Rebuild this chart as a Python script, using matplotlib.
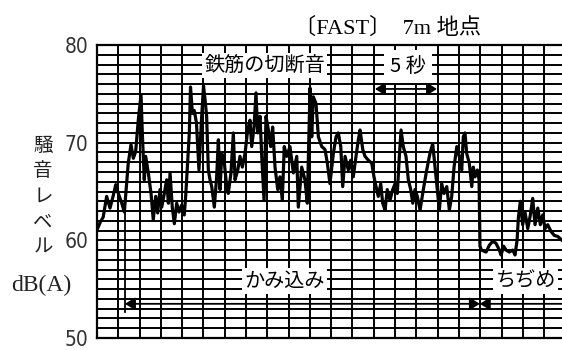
import numpy as np
import matplotlib.pyplot as plt

plt.rcParams['font.family'] = ['Noto Sans CJK JP', 'DejaVu Sans']

# 記録波形（時間 [s], 騒音レベル [dB(A)]）
t = [0.04, 0.23, 0.48, 0.74, 1.00, 1.25, 1.44, 1.64, 1.90, 2.10,
     2.40, 2.61, 2.79, 2.97, 3.17, 3.38, 3.48, 3.63, 3.74, 3.94,
     4.15, 4.32, 4.51, 4.66, 4.84, 4.97, 5.17, 5.35, 5.48, 5.61,
     5.78, 5.94, 6.12, 6.30, 6.50, 6.70, 6.81, 6.97, 7.09, 7.18,
     7.33, 7.47, 7.64, 7.83, 8.03, 8.18, 8.29, 8.42, 8.55, 8.68,
     8.81, 9.01, 9.19, 9.32, 9.45, 9.58, 9.78, 9.96, 10.08, 10.29,
     10.47, 10.60, 10.81, 10.98, 11.16, 11.37, 11.57, 11.75, 11.88, 12.06,
     12.21, 12.34, 12.52, 12.65, 12.83, 12.98, 13.16, 13.34, 13.49, 13.67,
     13.88, 14.05, 14.23, 14.38, 14.57, 14.82, 15.08, 15.34, 15.46, 15.72,
     15.97, 16.15, 16.36, 16.49, 16.61, 16.82, 17.00, 17.26, 17.51, 17.69,
     17.89, 18.15, 18.36, 18.53, 18.72, 18.87, 19.05, 19.30, 19.48, 19.68,
     19.89, 20.07, 20.20, 20.41, 20.58, 20.84, 21.10, 21.27, 21.43, 21.60,
     21.79, 21.94, 22.12, 22.29, 22.50, 22.71, 22.89, 23.06, 23.22, 23.35,
     23.52, 23.73, 23.91, 24.09, 24.25, 24.42, 24.60, 24.81, 25.06, 25.32,
     25.57, 25.78, 25.96, 26.13, 26.29, 26.47, 26.65, 26.86, 27.06, 27.24,
     27.42, 27.63, 27.82, 28.01, 28.13, 28.26, 28.39, 28.59, 28.78, 28.90,
     29.03, 29.21, 29.34, 29.41, 29.53, 29.88, 30.13, 30.39, 30.64, 30.90,
     31.03, 31.23, 31.41, 31.67, 31.93, 32.10, 32.26, 32.36, 32.51, 32.69,
     32.87, 33.08, 33.28, 33.46, 33.64, 33.85, 34.05, 34.23, 34.41, 34.61,
     34.87, 35.12, 35.38, 35.71]
level = [61.2, 61.8, 62.4, 64.5, 63.3, 64.6, 65.7, 64.8, 63.8, 62.9,
         67.9, 69.8, 68.4, 69.1, 72.3, 74.9, 71.0, 66.2, 68.6, 66.9,
         64.8, 62.1, 64.5, 62.8, 65.2, 63.4, 64.8, 66.2, 63.8, 66.9,
         63.4, 61.7, 63.8, 62.9, 63.6, 62.6, 64.5, 68.2, 71.0, 75.7,
         73.0, 73.3, 72.0, 67.2, 72.5, 75.8, 74.5, 72.7, 67.2, 66.2,
         65.5, 63.4, 66.5, 70.3, 65.2, 68.9, 67.9, 65.5, 64.8, 66.9,
         71.0, 66.2, 67.2, 68.6, 67.5, 68.9, 71.3, 72.3, 69.6, 71.6,
         75.1, 71.0, 72.7, 68.6, 64.1, 72.7, 71.3, 69.6, 71.6, 67.5,
         65.2, 66.5, 64.1, 69.6, 68.6, 69.6, 66.9, 68.6, 63.4, 67.5,
         66.2, 63.8, 75.6, 70.6, 74.7, 74.0, 70.6, 69.6, 69.3, 67.9,
         65.8, 68.9, 70.6, 71.0, 69.6, 65.5, 68.6, 67.2, 68.2, 66.5,
         68.6, 70.3, 71.3, 69.3, 68.6, 68.2, 67.9, 66.5, 65.5, 64.5,
         65.8, 63.8, 63.1, 65.2, 64.1, 65.2, 65.8, 64.8, 68.6, 71.3,
         69.6, 68.6, 66.2, 65.2, 63.8, 65.2, 64.5, 63.1, 65.2, 67.2,
         68.9, 69.9, 67.5, 65.2, 63.1, 65.8, 64.8, 65.5, 63.1, 64.5,
         67.5, 69.6, 68.6, 67.2, 70.6, 71.0, 68.9, 67.9, 65.5, 67.5,
         66.5, 67.2, 66.2, 59.4, 59.0, 58.8, 59.5, 59.9, 59.7, 59.0,
         58.5, 59.4, 59.0, 58.8, 59.0, 58.5, 60.0, 62.3, 64.0, 61.6,
         62.9, 61.2, 62.6, 64.3, 61.6, 63.3, 61.6, 62.6, 61.2, 61.6,
         60.9, 60.5, 60.4, 60.0]

y_ticks = [50, 60, 70, 80]

# 区間（かみ込み / ちぢめ）の境目と矢印の高さ
t_kami_start = 2.15
t_kami_end = 29.40
arrow_level = 53.5
# 5 秒スケール
t_scale = [21.35, 26.11]
scale_level = 75.5

W, H = 562, 350
fig = plt.figure(figsize=(W / 100, H / 100), dpi=100)
ax = fig.add_axes([97 / W, 12 / H, (W - 97) / W, 293 / H])

ax.set_xlim(0, 35.71)
ax.set_ylim(50, 80)

# 記録紙の目盛
ax.set_xticks(np.arange(0, 35.71, 1.635))
ax.set_yticks(np.arange(50, 81, 1), minor=True)
ax.set_yticks(y_ticks)
ax.set_yticklabels([str(v) for v in y_ticks], family='DejaVu Sans',
                   fontstretch='condensed', fontsize=15, color='#333333')
ax.set_xticklabels([])
ax.tick_params(which='both', length=0, pad=6)
ax.grid(True, which='both', color='black', lw=1.4)
ax.set_axisbelow(True)
for s in ['left', 'top', 'bottom']:
    ax.spines[s].set_linewidth(1.6)
ax.spines['right'].set_visible(False)

# 騒音レベルの記録
ax.plot(t, level, color='black', lw=2.3, zorder=3)

# 区間の区切り線と矢印
arrow = dict(color='black', lw=1.3, mutation_scale=15, shrinkA=0, shrinkB=0)
ax.plot([t_kami_start, t_kami_start], [63.0, 52.7], color='black', lw=1.3, zorder=3)
ax.plot([t_kami_end, t_kami_end], [59.4, 53.0], color='black', lw=1.3, zorder=3)
ax.annotate('', xy=(t_kami_start, arrow_level), xytext=(t_kami_end, arrow_level),
            arrowprops=dict(arrowstyle='<|-|>,head_width=0.25', **arrow), zorder=4)
ax.annotate('', xy=(t_kami_end, arrow_level), xytext=(36.5, arrow_level),
            arrowprops=dict(arrowstyle='-|>,head_width=0.25', **arrow),
            annotation_clip=False, zorder=4)
ax.annotate('', xy=(t_scale[0], scale_level), xytext=(t_scale[1], scale_level),
            arrowprops=dict(arrowstyle='<|-|>,head_width=0.25', **arrow), zorder=4)

box = dict(boxstyle='square,pad=0.12', fc='white', ec='none')
ax.text(12.86, 77.9, '鉄筋の切断音', fontsize=14.5, ha='center', va='center',
        bbox=box, zorder=5)
ax.text(23.85, 77.8, '5 秒', fontsize=14.5, ha='center', va='center',
        bbox=dict(boxstyle='square,pad=0.3', fc='white', ec='none'), zorder=5)
ax.text(14.4, 55.8, 'かみ込み', fontsize=14.5, ha='center', va='center',
        bbox=box, zorder=5)
ax.text(30.6, 55.8, 'ちぢめ', fontsize=14.5, ha='left', va='center',
        bbox=box, zorder=5)

# 見出しと縦軸の説明
fig.text(388 / W, 1 - 28 / H, '〔FAST〕  7m 地点', fontsize=16,
         family=['Liberation Serif', 'Noto Sans CJK JP'],
         ha='center', va='center')
for ch, yp in zip('騒音レベル', [145, 171, 196, 222, 247]):
    fig.text(43 / W, 1 - yp / H, ch, fontsize=14, ha='center', va='center',
             color='#222222')
fig.text(41 / W, 1 - 285 / H, 'dB(A)', fontsize=17,
         family=['Liberation Serif', 'DejaVu Serif'],
         ha='center', va='center', color='#222222')

fig.savefig('out.png', dpi=100)
